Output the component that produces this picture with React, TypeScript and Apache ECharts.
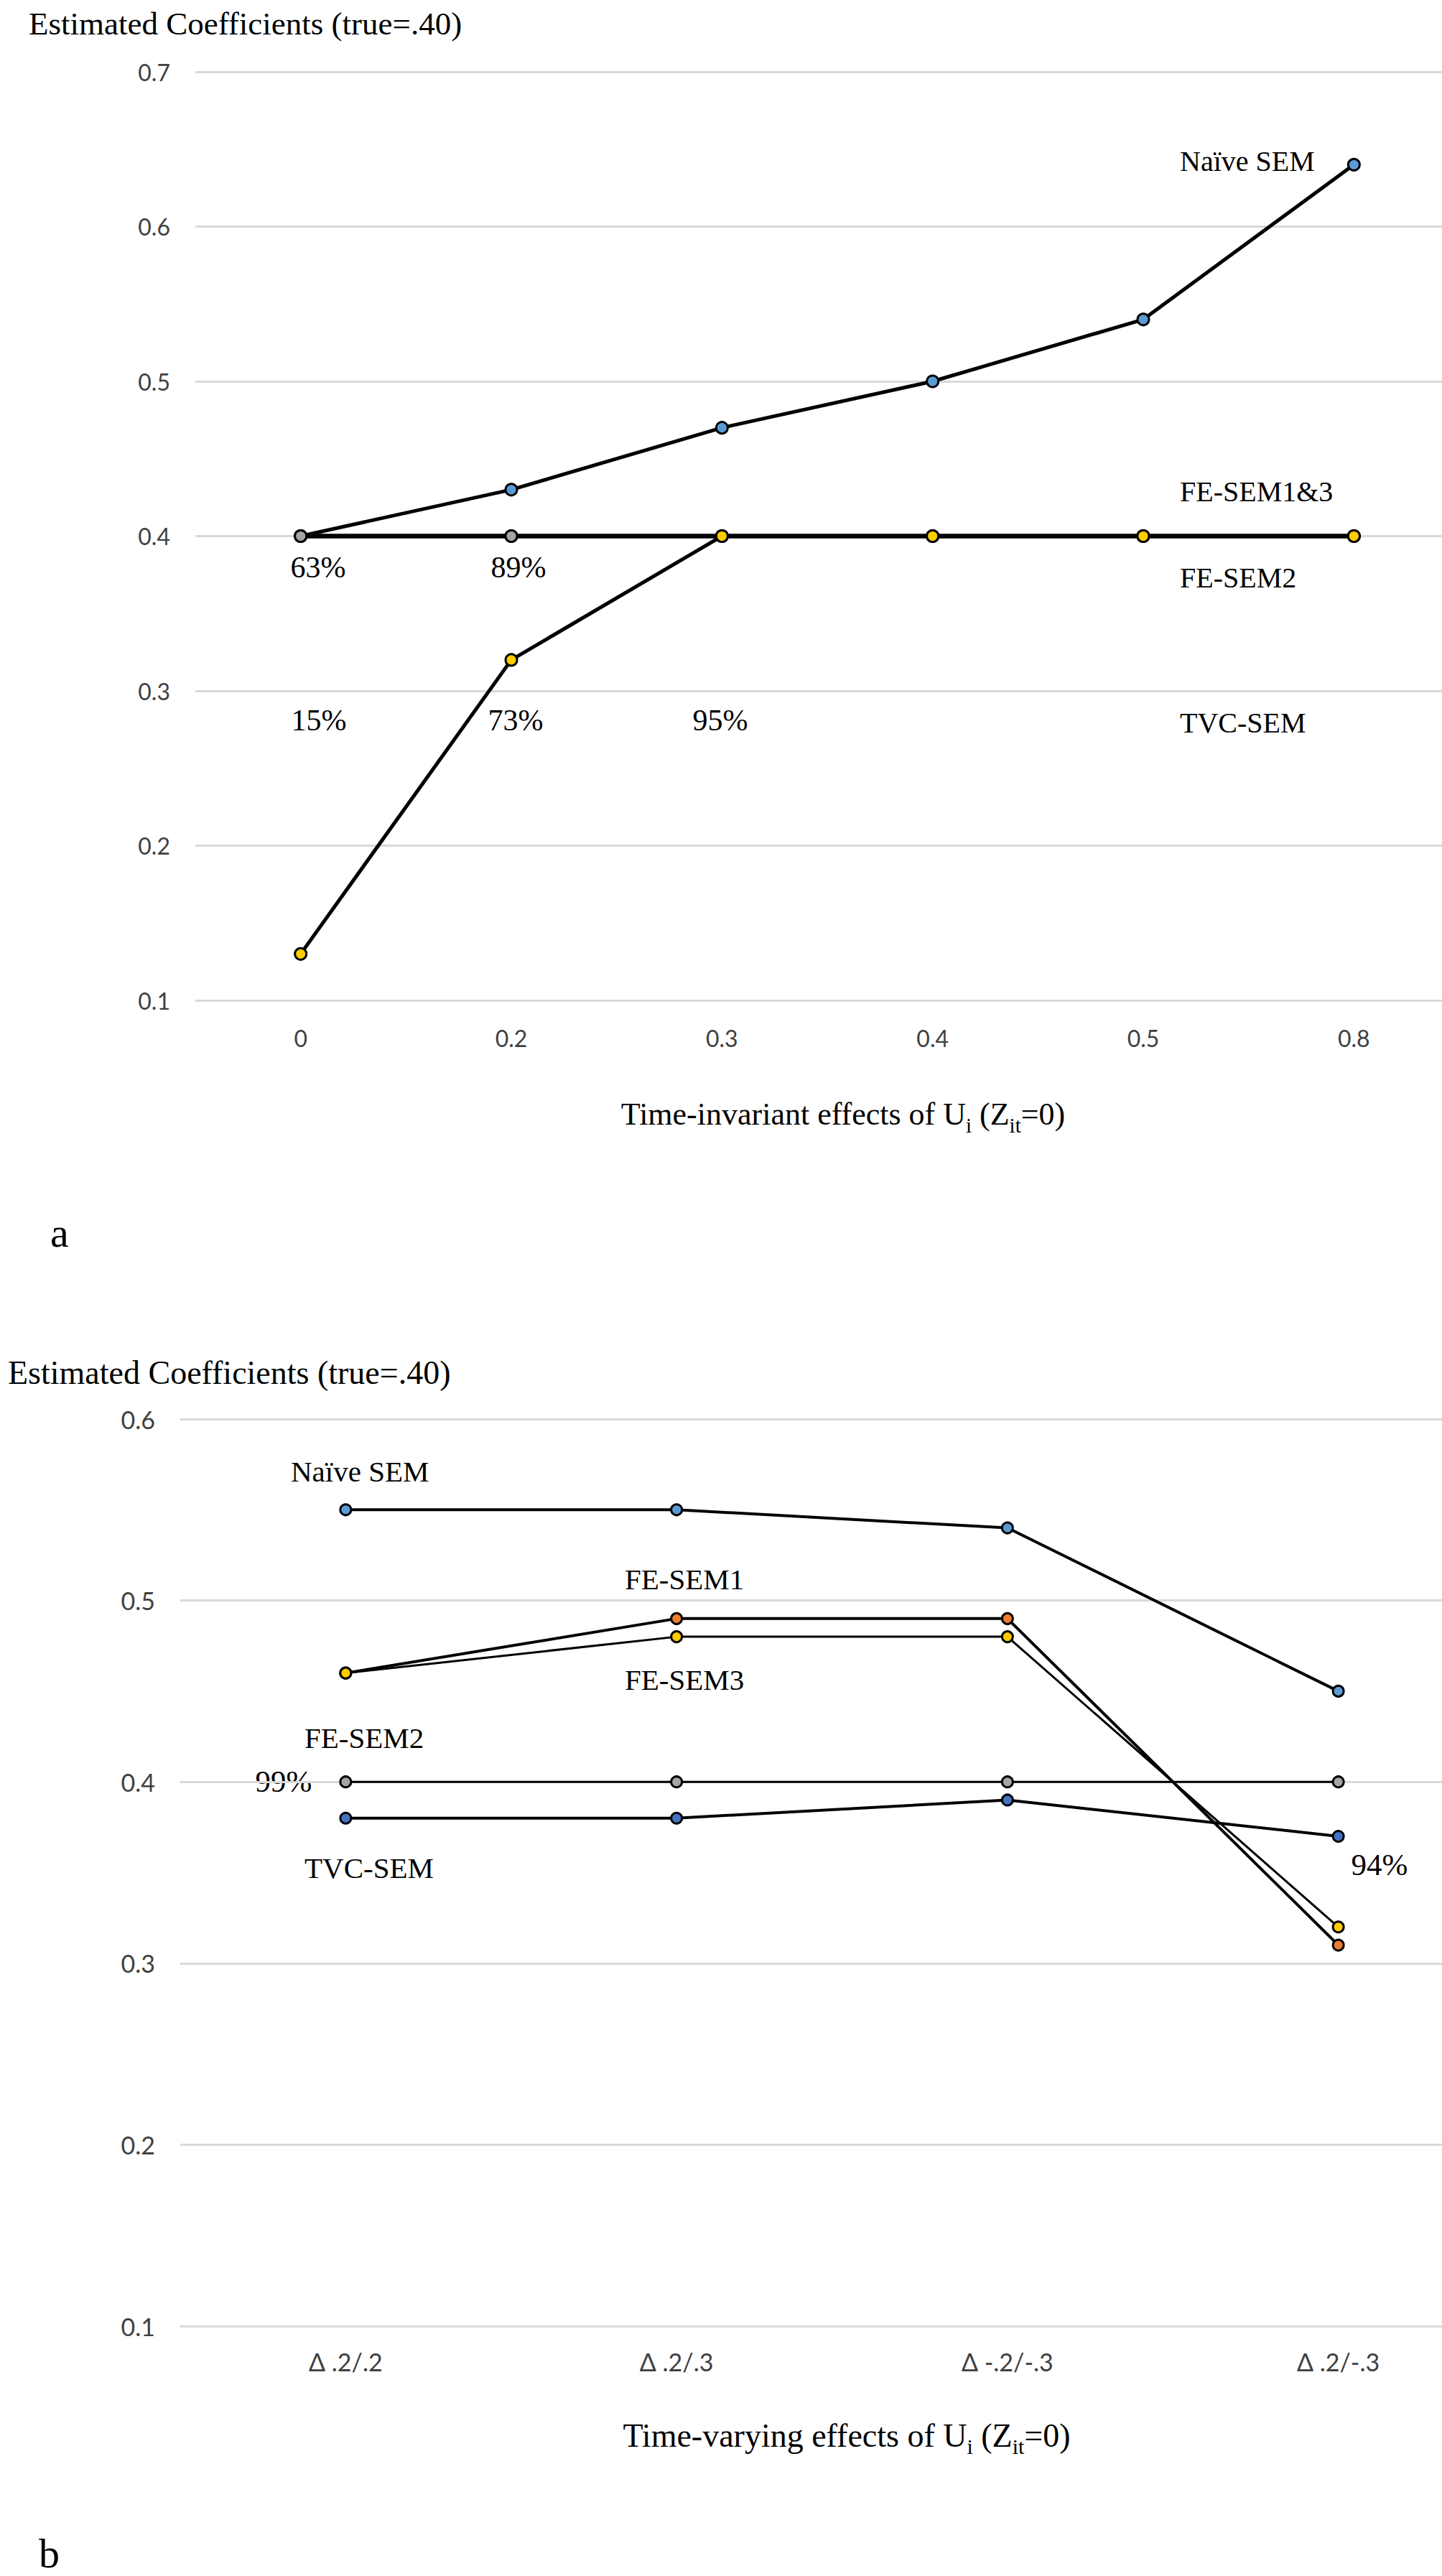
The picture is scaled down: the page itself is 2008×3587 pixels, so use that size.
import React, { useEffect, useRef } from "react";
import * as echarts from "echarts";

// ---------- data ----------
const topCategories = ["0", "0.2", "0.3", "0.4", "0.5", "0.8"];
const topNaive = [0.4, 0.43, 0.47, 0.5, 0.54, 0.64];
const topFE13 = [0.4, 0.4, 0.4, 0.4, 0.4, 0.4];
const topFE2 = [0.4, 0.4, 0.4, 0.4, 0.4, 0.4];
const topTVC = [0.13, 0.32, 0.4, 0.4, 0.4, 0.4];

const bottomCategories = ["Δ .2/.2", "Δ .2/.3", "Δ -.2/-.3", "Δ .2/-.3"];
const bottomNaive = [0.55, 0.55, 0.54, 0.45];
const bottomFE1 = [0.46, 0.49, 0.49, 0.31];
const bottomFE2 = [0.4, 0.4, 0.4, 0.4];
const bottomFE3 = [0.46, 0.48, 0.48, 0.32];
const bottomTVC = [0.38, 0.38, 0.39, 0.37];

const topYRange = [0.1, 0.7];
const bottomYRange = [0.1, 0.6];
const yStep = 0.1;

const yTitle = "Estimated Coefficients (true=.40)";
const topXTitle = "{n|Time-invariant effects of U}{s|i}{n| (Z}{s|it}{n|=0)}";
const bottomXTitle = "{n|Time-varying effects of U}{s|i}{n| (Z}{s|it}{n|=0)}";

// ---------- styles ----------
const SERIF = "'Liberation Serif', 'DejaVu Serif', serif";
const SANS = "Lato, 'Liberation Sans', sans-serif";
const C_LBLUE = "#5B9BD5";
const C_ORANGE = "#ED7D31";
const C_GRAY = "#A5A5A5";
const C_YELLOW = "#FFCC00";
const C_DBLUE = "#4472C4";

// the figure is cropped on its right side: the plot areas run past the page edge
const PAGE_W = 2008;
const PAGE_H = 3587;
const CANVAS_W = 2120;

function lineSeries(name: string, data: number[], color: string, idx: number, width: number, size: number) {
  return {
    type: "line",
    name,
    data,
    xAxisIndex: idx,
    yAxisIndex: idx,
    symbol: "circle",
    symbolSize: size,
    showSymbol: true,
    lineStyle: { color: "#000", width },
    itemStyle: { color, borderColor: "#000", borderWidth: 3 },
    emphasis: { disabled: true },
  };
}

function txt(text: string, x: number, y: number, fontSize: number, align: string = "left", font: string = SERIF) {
  return {
    type: "text",
    x,
    y,
    silent: true,
    style: {
      text,
      fontFamily: font,
      fontSize,
      fill: "#000",
      textAlign: align,
      textVerticalAlign: "middle",
    },
  };
}

function subTitle(text: string, x: number, y: number, fontSize: number) {
  return {
    type: "text",
    x,
    y,
    silent: true,
    style: {
      text,
      fontFamily: SERIF,
      fontSize,
      fill: "#000",
      textAlign: "center",
      textVerticalAlign: "middle",
      rich: {
        n: { fontFamily: SERIF, fontSize, lineHeight: 60, fill: "#000" },
        s: {
          fontFamily: SERIF,
          fontSize: Math.round(fontSize * 0.65),
          lineHeight: 38,
          verticalAlign: "bottom",
          fill: "#000",
        },
      },
    },
  };
}

export default function App() {
  const ref = useRef<HTMLDivElement>(null);

  useEffect(() => {
    if (!ref.current) return;
    const chart = echarts.init(ref.current, undefined, { renderer: "svg" });

    const yAxisBase = (range: number[], fontSize: number) => ({
      type: "value",
      min: range[0],
      max: range[1],
      interval: yStep,
      axisLine: { show: false },
      axisTick: { show: false },
      axisLabel: {
        fontFamily: SANS,
        fontSize,
        color: "#404040",
        margin: 35,
        formatter: (v: number) => v.toFixed(1),
      },
      splitLine: { show: true, lineStyle: { color: "#D9D9D9", width: 3 } },
    });

    const xAxisBase = (cats: string[], fontSize: number, margin: number, idx: number) => ({
      type: "category",
      gridIndex: idx,
      data: cats,
      boundaryGap: true,
      axisLine: { show: false },
      axisTick: { show: false },
      splitLine: { show: false },
      axisLabel: {
        interval: 0,
        fontFamily: SANS,
        fontSize,
        color: "#404040",
        margin,
      },
    });

    const option = {
      animation: false,
      backgroundColor: "#fff",
      grid: [
        { left: 272, right: CANVAS_W - 2032, top: 100, bottom: PAGE_H - 1393 },
        { left: 251, right: CANVAS_W - 2094, top: 1976, bottom: PAGE_H - 3239 },
      ],
      xAxis: [xAxisBase(topCategories, 32, 36, 0), xAxisBase(bottomCategories, 34, 32, 1)],
      yAxis: [
        { ...yAxisBase(topYRange, 32), gridIndex: 0 },
        { ...yAxisBase(bottomYRange, 34), gridIndex: 1 },
      ],
      series: [
        lineSeries("Naïve SEM", topNaive, C_LBLUE, 0, 5, 16),
        lineSeries("FE-SEM1&3", topFE13, C_ORANGE, 0, 6, 16),
        lineSeries("FE-SEM2", topFE2, C_GRAY, 0, 6, 16),
        lineSeries("TVC-SEM", topTVC, C_YELLOW, 0, 5, 16),

        lineSeries("Naïve SEM", bottomNaive, C_LBLUE, 1, 4, 15),
        lineSeries("FE-SEM1", bottomFE1, C_ORANGE, 1, 4, 15),
        lineSeries("FE-SEM2", bottomFE2, C_GRAY, 1, 3, 15),
        lineSeries("FE-SEM3", bottomFE3, C_YELLOW, 1, 3, 15),
        lineSeries("TVC-SEM", bottomTVC, C_DBLUE, 1, 4, 15),
      ],
      graphic: [
        // top panel
        txt(yTitle, 40, 33, 45),
        txt("Naïve SEM", 1643, 224, 40),
        txt("FE-SEM1&3", 1643, 684, 40),
        txt("FE-SEM2", 1643, 804, 40),
        txt("TVC-SEM", 1643, 1006, 40),
        txt("63%", 443, 790, 42, "center"),
        txt("89%", 722, 790, 42, "center"),
        txt("15%", 444, 1003, 42, "center"),
        txt("73%", 718, 1003, 42, "center"),
        txt("95%", 1003, 1003, 42, "center"),
        subTitle(topXTitle, 1174, 1551, 44),
        txt("a", 70, 1716, 58),

        // bottom panel
        txt(yTitle, 11, 1911, 46),
        txt("Naïve SEM", 405, 2049, 41),
        txt("FE-SEM1", 870, 2199, 41),
        txt("FE-SEM3", 870, 2339, 41),
        txt("FE-SEM2", 424, 2420, 41),
        txt("TVC-SEM", 424, 2601, 41),
        txt("99%", 395, 2480, 43, "center"),
        txt("94%", 1921, 2596, 43, "center"),
        subTitle(bottomXTitle, 1179, 3391, 46),
        txt("b", 54, 3555, 58),
      ],
    };

    chart.setOption(option as any);
    return () => chart.dispose();
  }, []);

  return (
    <div
      style={{
        position: "absolute",
        left: 0,
        top: 0,
        width: PAGE_W,
        height: PAGE_H,
        overflow: "hidden",
        background: "#fff",
      }}
    >
      <div ref={ref} style={{ width: CANVAS_W, height: PAGE_H }} />
    </div>
  );
}
